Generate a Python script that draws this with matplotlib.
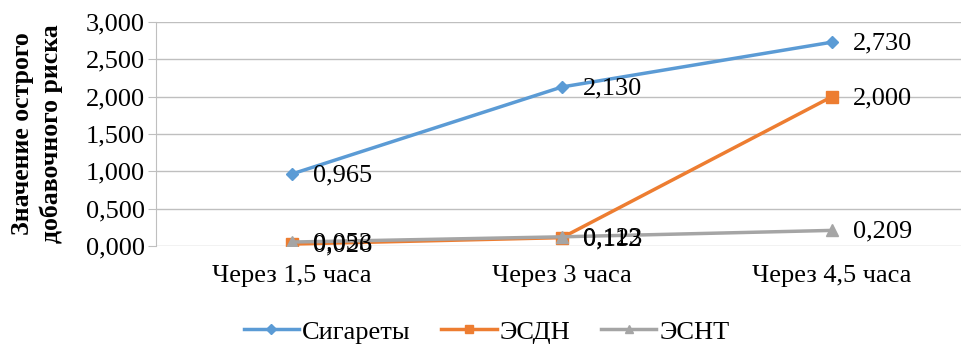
import matplotlib
matplotlib.use("Agg")
import matplotlib.pyplot as plt
from matplotlib.ticker import FuncFormatter

plt.rcParams['font.family'] = ['Liberation Serif', 'DejaVu Serif']

categories = ["Через 1,5 часа", "Через 3 часа", "Через 4,5 часа"]
cig = [0.965, 2.130, 2.730]
esdn = [0.026, 0.112, 2.000]
esnt = [0.053, 0.123, 0.209]
series_names = ["Сигареты", "ЭСДН", "ЭСНТ"]
yticks = [0, 0.5, 1.0, 1.5, 2.0, 2.5, 3.0]

colors = ["#5b9bd5", "#ed7d31", "#a5a5a5"]
markers = ["D", "s", "^"]
msizes = [6, 8, 8]

fig = plt.figure(figsize=(9.62, 3.45), dpi=100)
ax = fig.add_axes([156/962, (345-246)/345, 1 - 156/962, (246-22)/345])

x = list(range(len(categories)))
for vals, name, c, m, ms in zip([cig, esdn, esnt], series_names, colors, markers, msizes):
    ax.plot(x, vals, color=c, lw=2.5, marker=m, ms=ms, label=name, zorder=3)
    for xi, v in zip(x, vals):
        ax.annotate(f"{v:.3f}".replace(".", ","), (xi, v), xytext=(15, -1),
                    textcoords="offset points", ha="left", va="center",
                    fontsize=19, color="black", zorder=4)

ax.set_ylim(0, 3.0)
ax.set_xlim((156-292)/270, (962-292)/270)
ax.set_yticks(yticks)
ax.yaxis.set_major_formatter(FuncFormatter(lambda v, p: f"{v:.3f}".replace(".", ",")))
ax.set_xticks(x)
ax.set_xticklabels(categories)
ax.tick_params(axis='y', length=6, color="#bfbfbf", labelsize=19, pad=2)
ax.tick_params(axis='x', length=0, labelsize=19, pad=14)
ax.grid(axis='y', color="#bfbfbf", lw=1)
ax.set_axisbelow(True)
for s in ["top", "right", "bottom"]:
    ax.spines[s].set_visible(False)
ax.spines["left"].set_color("#bfbfbf")

ax.set_ylabel("Значение острого\nдобавочного риска", fontsize=18.5, fontweight="bold",
              linespacing=1.3)
ax.yaxis.set_label_coords(-0.115, 0.5)

leg = fig.legend(loc="lower center", bbox_to_anchor=(0.506, -0.065), ncol=3, frameon=False,
                 fontsize=19, handlelength=2.1, columnspacing=1.15, handletextpad=0.12,
                 markerscale=0.8)

fig.savefig("out.png", dpi=100)
